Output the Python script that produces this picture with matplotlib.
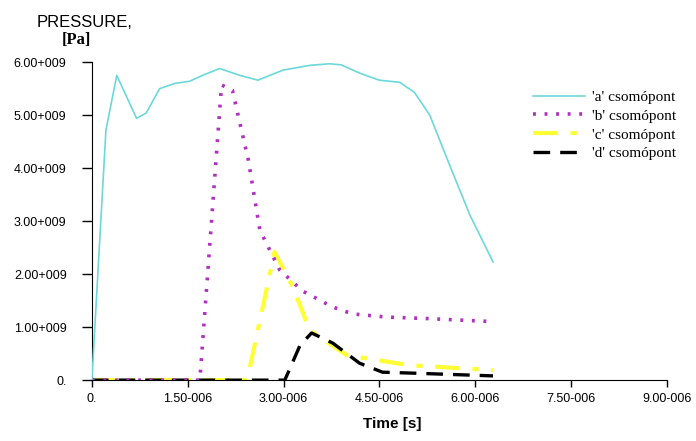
import matplotlib.pyplot as plt

# idopontok [s] es nyomasok [Pa]
t_a = [0.0, 0.22e-6, 0.39e-6, 0.70e-6, 0.85e-6, 1.06e-6, 1.30e-6, 1.53e-6, 1.75e-6,
       2.00e-6, 2.32e-6, 2.60e-6, 2.99e-6, 3.41e-6, 3.72e-6, 3.90e-6, 4.20e-6,
       4.50e-6, 4.82e-6, 5.05e-6, 5.29e-6, 5.60e-6, 5.92e-6, 6.28e-6]
p_a = [0.0, 4.72e9, 5.75e9, 4.94e9, 5.04e9, 5.50e9, 5.60e9, 5.64e9, 5.76e9,
       5.88e9, 5.75e9, 5.66e9, 5.85e9, 5.94e9, 5.97e9, 5.95e9, 5.79e9,
       5.66e9, 5.62e9, 5.43e9, 5.00e9, 4.06e9, 3.11e9, 2.23e9]

t_b = [0.0, 1.69e-6, 2.03e-6, 2.20e-6, 2.45e-6, 2.63e-6, 2.94e-6, 3.30e-6,
       3.77e-6, 4.08e-6, 4.61e-6, 5.29e-6, 6.18e-6]
p_b = [0.0, 0.0, 5.57e9, 5.47e9, 4.15e9, 2.83e9, 2.08e9, 1.68e9,
       1.38e9, 1.25e9, 1.19e9, 1.16e9, 1.11e9]

t_c = [0.0, 2.43e-6, 2.86e-6, 3.15e-6, 3.41e-6, 3.99e-6, 4.98e-6, 6.28e-6]
p_c = [0.0, 0.0, 2.42e9, 1.75e9, 0.94e9, 0.47e9, 0.28e9, 0.19e9]

t_d = [0.0, 3.02e-6, 3.26e-6, 3.44e-6, 3.77e-6, 4.19e-6, 4.55e-6, 5.08e-6, 6.28e-6]
p_d = [0.0, 0.0, 0.66e9, 0.89e9, 0.70e9, 0.32e9, 0.15e9, 0.13e9, 0.08e9]

x_ticks = [0, 1.5e-6, 3.0e-6, 4.5e-6, 6.0e-6, 7.5e-6, 9.0e-6]
x_labels = ["0.", "1.50-006", "3.00-006", "4.50-006", "6.00-006", "7.50-006", "9.00-006"]
y_ticks = [0, 1e9, 2e9, 3e9, 4e9, 5e9, 6e9]
y_labels = ["0.", "1.00+009", "2.00+009", "3.00+009", "4.00+009", "5.00+009", "6.00+009"]

fig = plt.figure(figsize=(6.96, 4.41), dpi=100)
ax = fig.add_axes([0.132, 0.138, 0.826, 0.721])

ax.plot(t_d, p_d, color='black', lw=2.4, ls=(0, (5, 3)), zorder=2, label="'d' csomópont")
ax.plot(t_c, p_c, color='#ffff33', lw=3, ls=(0, (6, 3, 1.5, 3)), zorder=1, label="'c' csomópont")
ax.plot(t_b, p_b, color='#b030c0', lw=2.6, ls=(0, (0.8, 2.4)), zorder=3, label="'b' csomópont")
ax.plot(t_a, p_a, color='#6cd8d8', lw=1.2, zorder=4, label="'a' csomópont")

ax.set_xlim(0, 9e-6)
ax.set_ylim(0, 6e9)
ax.set_xticks(x_ticks)
ax.set_xticklabels(x_labels, fontsize=9, family='Liberation Sans')
ax.set_yticks(y_ticks)
ax.set_yticklabels(y_labels, fontsize=9, family='Liberation Sans')
ax.tick_params(axis='y', direction='out', length=7.2, width=1, pad=11)
ax.tick_params(axis='x', direction='out', length=5, width=1, pad=4)
for s in ['top', 'right']:
    ax.spines[s].set_visible(False)

fig.text(0.563, 0.03, "Time [s]", fontsize=11, fontweight='bold', family='Liberation Sans',
         ha='center', va='baseline')
fig.text(0.053, 0.939, "PRESSURE,", fontsize=12, family='Liberation Sans', va='baseline')
fig.text(0.089, 0.900, "[Pa]", fontsize=12, fontweight='bold', family='Liberation Serif',
         va='baseline')

h, l = ax.get_legend_handles_labels()
leg = ax.legend(h[::-1], l[::-1], loc='upper left', bbox_to_anchor=(0.766, 0.795),
                bbox_transform=fig.transFigure, borderpad=0, borderaxespad=0,
                frameon=False, prop={'family': 'Liberation Serif', 'size': 11},
                handlelength=3.4, labelspacing=0.33, handletextpad=0.45)

plt.savefig('out.png')
